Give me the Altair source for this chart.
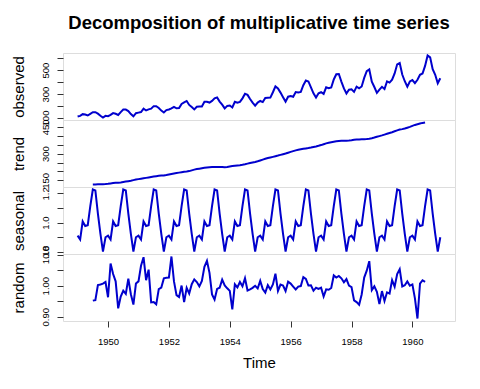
import json
import altair as alt
import pandas as pd

# AirPassengers, Jan 1949 .. Dec 1960 (monthly)
observed = [
    112, 118, 132, 129, 121, 135, 148, 148, 136, 119, 104, 118,
    115, 126, 141, 135, 125, 149, 170, 170, 158, 133, 114, 140,
    145, 150, 178, 163, 172, 178, 199, 199, 184, 162, 146, 166,
    171, 180, 193, 181, 183, 218, 230, 242, 209, 191, 172, 194,
    196, 196, 236, 235, 229, 243, 264, 272, 237, 211, 180, 201,
    204, 188, 235, 227, 234, 264, 302, 293, 259, 229, 203, 229,
    242, 233, 267, 269, 270, 315, 364, 347, 312, 274, 237, 278,
    284, 277, 317, 313, 318, 374, 413, 405, 355, 306, 271, 306,
    315, 301, 356, 348, 355, 422, 465, 467, 404, 347, 305, 336,
    340, 318, 362, 348, 363, 435, 491, 505, 404, 359, 310, 337,
    360, 342, 406, 396, 420, 472, 548, 559, 463, 407, 362, 405,
    417, 391, 419, 461, 472, 535, 622, 606, 508, 461, 390, 432,
]

# trend, Jul 1949 .. Jun 1960
trend = [
    126.79, 127.25, 127.96, 128.58, 129.00, 129.75,
    131.25, 133.08, 134.92, 136.42, 137.42, 138.75, 140.92, 143.17, 145.71, 148.42, 151.54, 154.71,
    157.13, 159.54, 161.83, 164.13, 166.67, 169.08, 171.25, 173.58, 175.46, 176.83, 178.04, 180.17,
    183.13, 186.21, 189.04, 191.29, 193.58, 195.83, 198.04, 199.75, 202.21, 206.25, 210.42, 213.38,
    215.83, 218.50, 220.92, 222.92, 224.08, 224.71, 225.33, 225.33, 224.96, 224.58, 224.46, 225.54,
    228.00, 230.46, 232.25, 233.92, 235.63, 237.75, 240.50, 243.96, 247.17, 250.25, 253.50, 257.13,
    261.83, 266.67, 271.13, 275.21, 278.50, 281.96, 285.75, 289.33, 293.25, 297.17, 301.00, 305.46,
    309.96, 314.42, 318.63, 321.75, 324.50, 327.08, 329.54, 331.83, 334.46, 337.54, 340.54, 344.08,
    348.25, 353.00, 357.63, 361.38, 364.50, 367.17, 369.46, 371.21, 372.17, 372.42, 372.75, 373.63,
    375.25, 377.92, 379.50, 380.00, 380.71, 380.96, 381.83, 383.67, 386.50, 390.33, 394.71, 398.63,
    402.54, 407.17, 411.88, 416.33, 420.50, 425.50, 430.71, 435.13, 437.71, 440.96, 445.83, 450.63,
    456.33, 461.38, 465.21, 469.33, 472.75, 475.04,
]

# seasonal figure, Jan .. Dec
seasonal_figure = [0.9102, 0.8836, 1.0074, 0.9759, 0.9814, 1.1128,
                   1.2266, 1.2199, 1.0605, 0.9218, 0.8012, 0.8988]

# random, Jul 1949 .. Jun 1960
random_part = [
    0.9517, 0.9534, 1.0022, 1.0040, 1.0063, 1.0118,
    0.9626, 1.0715, 1.0374, 1.0140, 0.9269, 0.9650, 0.9836, 0.9734, 1.0225, 0.9722, 0.9390, 1.0068,
    1.0138, 1.0640, 1.0918, 1.0177, 1.0516, 0.9460, 0.9474, 0.9398, 0.9889, 0.9939, 1.0235, 1.0251,
    1.0259, 1.0940, 1.0135, 0.9696, 0.9633, 1.0004, 0.9469, 0.9931, 0.9746, 1.0047, 1.0203, 1.0115,
    0.9977, 1.0152, 1.0605, 1.0802, 1.0413, 0.9718, 0.9552, 0.9895, 0.9934, 1.0193, 1.0009, 0.9915,
    0.9830, 0.9232, 1.0044, 0.9944, 1.0119, 0.9979, 1.0238, 0.9845, 0.9881, 0.9928, 0.9995, 0.9909,
    1.0154, 0.9888, 0.9776, 1.0016, 0.9879, 1.0040, 1.0385, 0.9831, 1.0033, 1.0003, 0.9828, 1.0126,
    1.0066, 0.9970, 0.9876, 0.9968, 0.9986, 1.0276, 1.0218, 1.0005, 1.0009, 0.9835, 0.9933, 0.9894,
    0.9937, 0.9650, 0.9882, 0.9868, 0.9924, 1.0329, 1.0261, 1.0313, 1.0236, 1.0108, 1.0213, 1.0005,
    0.9954, 0.9523, 0.9469, 0.9384, 0.9716, 1.0261, 1.0484, 1.0790, 0.9857, 0.9978, 0.9803, 0.9406,
    0.9825, 0.9506, 0.9785, 0.9746, 1.0178, 0.9969, 1.0373, 1.0531, 0.9974, 1.0013, 1.0135, 0.9999,
    1.0039, 0.9591, 0.8941, 1.0065, 1.0174, 1.0121,
]

x_ticks = [1950, 1952, 1954, 1956, 1958, 1960]

start_year = 1949
obs_time = [start_year + i / 12 for i in range(len(observed))]
mid_time = [start_year + (i + 6) / 12 for i in range(len(trend))]
seasonal = seasonal_figure * (len(observed) // 12)

FONT = "Liberation Sans"
LINE = "#0000CD"
W, H = 392, 67
X_DOMAIN = [1948.52, 1961.40]


def panel(times, values, title, domain, ticks, shown, fmt, bottom=False):
    df = pd.DataFrame({"t": times, "v": values})
    label_expr = "indexof(%s, datum.label) >= 0 ? datum.label : ''" % json.dumps(shown)
    yaxis = alt.Axis(
        title=title, values=ticks, format=fmt, labelExpr=label_expr,
        labelAngle=-90, labelAlign="center", labelBaseline="bottom",
        labelFont=FONT, labelFontSize=9.5, labelColor="black", labelPadding=6.5,
        labelOverlap=False, labelFlush=False, labelBound=False,
        tickSize=6, tickColor="#333333", domain=False, grid=False,
        minExtent=25, maxExtent=25,
        titleFont=FONT, titleFontSize=15, titleFontWeight="normal",
        titleColor="black", titlePadding=12,
    )
    if bottom:
        xaxis = alt.Axis(
            title="Time", values=x_ticks, format="d",
            labelFont=FONT, labelFontSize=9.5, labelColor="black", labelPadding=9,
            tickSize=6, tickColor="#333333", domain=False, grid=False,
            titleFont=FONT, titleFontSize=15, titleFontWeight="normal",
            titleColor="black", titlePadding=10,
        )
    else:
        xaxis = None
    return alt.Chart(df).mark_line(color=LINE, strokeWidth=2, clip=True).encode(
        x=alt.X("t:Q", scale=alt.Scale(domain=X_DOMAIN, nice=False, zero=False), axis=xaxis),
        y=alt.Y("v:Q", scale=alt.Scale(domain=domain, nice=False, zero=False), axis=yaxis),
    ).properties(width=W, height=H)


p1 = panel(obs_time, observed, "observed", [83.3, 642.7],
           [100, 200, 300, 400, 500, 600], ["100", "300", "500"], "d")
p2 = panel(mid_time, trend, "trend", [112.9, 489.0],
           [150, 200, 250, 300, 350, 400, 450], ["150", "300", "450"], "d")
p3 = panel(obs_time, seasonal, "seasonal", [0.7842, 1.2436],
           [0.8, 0.9, 1.0, 1.1, 1.2], ["0.8", "1.0", "1.2"], ".1f")
p4 = panel(mid_time, random_part, "random", [0.8861, 1.1020],
           [0.90, 0.95, 1.00, 1.05, 1.10], ["0.90", "1.00", "1.10"], ".2f", bottom=True)

chart = alt.vconcat(p1, p2, p3, p4, spacing=0, bounds="flush").properties(
    title=alt.TitleParams(
        "Decomposition of multiplicative time series",
        font=FONT, fontSize=18.5, fontWeight="bold", color="black",
        anchor="middle", frame="group", offset=20,
    ),
    padding={"left": 2, "top": 6, "right": 10, "bottom": 5},
).configure_view(stroke="#333333", strokeWidth=1).configure(background="white")

chart.save("out.html", embed_options={"renderer": "svg", "actions": False})
